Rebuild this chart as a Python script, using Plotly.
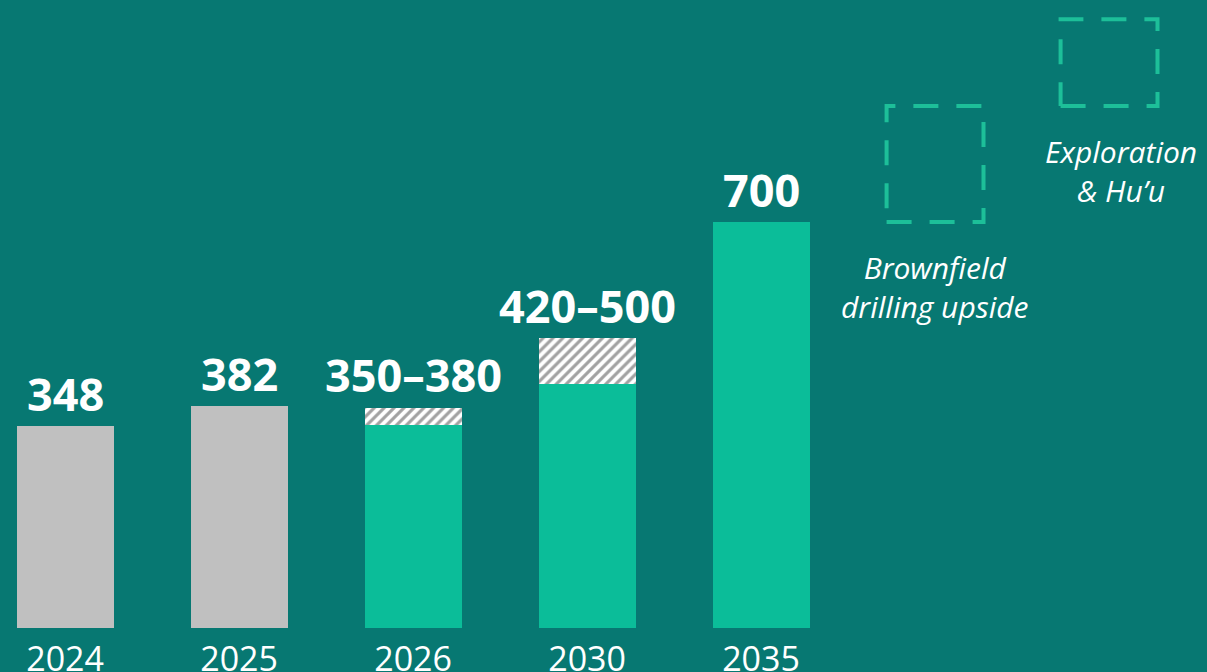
import plotly.graph_objects as go

# ---- data ----
years = ["2024", "2025", "2026", "2030", "2035"]
low_values = [348, 382, 350, 420, 700]
high_values = [348, 382, 380, 500, 700]
is_actual = [True, True, False, False, False]
value_labels = ["348", "382", "350–380", "420–500", "700"]

upside_labels = ["Brownfield<br>drilling upside", "Exploration<br>&amp; Hu’u"]
upside_values = [200, 150]

# ---- styles ----
BG = "#077872"
GREEN = "#0bbd99"
GREY = "#c0c0c0"
BOX = "#1dbf99"
FONT = "Open Sans"
BAR_W = 0.557

x_pos = list(range(len(years)))
base_colors = [GREY if a else GREEN for a in is_actual]
range_vals = [h - l for h, l in zip(high_values, low_values)]

fig = go.Figure()
fig.add_trace(go.Bar(
    x=x_pos, y=low_values, width=BAR_W,
    marker=dict(color=base_colors, line=dict(width=0)),
    hoverinfo="skip", showlegend=False,
))
fig.add_trace(go.Bar(
    x=x_pos, y=range_vals, width=BAR_W,
    marker=dict(color="white", line=dict(width=0),
                pattern=dict(shape="/", bgcolor="white", fgcolor="#444444",
                             size=7, solidity=0.45)),
    hoverinfo="skip", showlegend=False,
))

# value labels
for x, h, lab in zip(x_pos, high_values, value_labels):
    fig.add_annotation(x=x, y=h, text=f"<b>{lab}</b>", showarrow=False,
                       yanchor="middle", yshift=33,
                       font=dict(family=FONT, size=45, color="white"))

# dashed upside boxes (cumulative on top of final value)
level = high_values[-1]
for i, (lab, v) in enumerate(zip(upside_labels, upside_values)):
    xc = len(years) + i
    x0, x1 = xc - BAR_W / 2, xc + BAR_W / 2
    y0, y1 = level, level + v
    fig.add_trace(go.Scatter(
        x=[x0, x1, x1, x0, x0], y=[y0, y0, y1, y1, y0],
        mode="lines", line=dict(color=BOX, width=4, dash="25px,18px"),
        hoverinfo="skip", showlegend=False,
    ))
    fig.add_annotation(x=xc, y=y0, text=f"<i>{lab}</i>", showarrow=False,
                       yanchor="middle", yshift=-65, xshift=(12 if i == 1 else 0),
                       font=dict(family=FONT, size=30, color="white"))
    level = y1

fig.update_layout(
    width=1207, height=672,
    margin=dict(l=0, r=0, t=0, b=44),
    paper_bgcolor=BG, plot_bgcolor=BG,
    barmode="stack", bargap=0,
    xaxis=dict(range=[-0.374, 6.563], tickvals=x_pos, ticktext=years,
               showgrid=False, zeroline=False, showline=False, ticks="",
               ticklabelstandoff=8, automargin=False,
               tickfont=dict(family=FONT, size=34, color="white")),
    yaxis=dict(range=[0, 1083], visible=False, showgrid=False, zeroline=False,
               automargin=False),
)

fig.write_html("out.html",
               config={"displayModeBar": False},
               post_script="document.body.style.margin='0';"
                           "document.body.style.background='#077872';")
